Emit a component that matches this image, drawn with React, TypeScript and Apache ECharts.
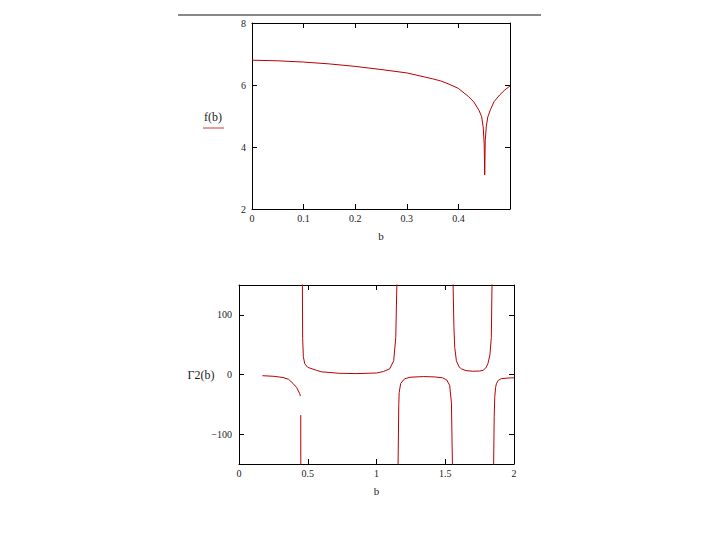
import React, { useEffect, useRef } from "react";
import * as echarts from "echarts";

// f(b) curve, top panel: [b, f(b)]
const fB: [number, number][] = [
  [0, 6.8], [0.05, 6.78], [0.1, 6.74], [0.15, 6.68], [0.2, 6.6], [0.25, 6.5],
  [0.3, 6.39], [0.35, 6.2], [0.366, 6.13], [0.38, 6.04], [0.4, 5.89], [0.42, 5.62],
  [0.43, 5.45], [0.44, 5.18], [0.445, 4.98], [0.448, 4.65], [0.45, 4.1], [0.451, 3.1],
  [0.452, 4.2], [0.454, 4.65], [0.457, 4.97], [0.462, 5.2], [0.469, 5.46],
  [0.48, 5.68], [0.49, 5.84], [0.5, 5.97],
];

// Γ2(b) curve, bottom panel, split into branches between asymptotes
const g2Branch1: [number, number][] = [
  [0.17, -2], [0.25, -3], [0.32, -5], [0.36, -8], [0.393, -15], [0.42, -22], [0.441, -32], [0.447, -36],
];
const g2Branch1b: [number, number][] = [[0.449, -68], [0.451, -400]];
const g2Branch2: [number, number][] = [
  [0.459, 400], [0.461, 150], [0.463, 60], [0.468, 30], [0.478, 18], [0.5, 12], [0.563, 7],
  [0.6, 4.5], [0.73, 2], [0.85, 1.5], [1.0, 2.5], [1.05, 5], [1.096, 9.5], [1.125, 23],
  [1.14, 62], [1.148, 150], [1.15, 400],
];
const g2Branch3: [number, number][] = [
  [1.155, -400], [1.157, -150], [1.162, -50], [1.165, -30], [1.176, -15], [1.205, -7],
  [1.25, -4.5], [1.34, -3.5], [1.42, -4], [1.48, -5.5], [1.51, -9], [1.532, -18],
  [1.545, -48], [1.552, -150], [1.554, -400],
];
const g2Branch4: [number, number][] = [
  [1.555, 400], [1.557, 150], [1.563, 80], [1.569, 45], [1.581, 23], [1.6, 13], [1.617, 9.5],
  [1.65, 6.5], [1.7, 5.5], [1.75, 5.8], [1.775, 7], [1.795, 11], [1.81, 18], [1.825, 33],
  [1.835, 62], [1.84, 150], [1.842, 400],
];
const g2Branch5: [number, number][] = [
  [1.85, -400], [1.852, -150], [1.856, -70], [1.86, -38], [1.866, -22], [1.872, -15.5],
  [1.885, -10], [1.908, -7], [1.95, -6], [2.0, -5.5],
];

const topXTicks = [0, 0.1, 0.2, 0.3, 0.4];
const topYTicks = [2, 4, 6, 8];
const botXTicks = [0, 0.5, 1, 1.5, 2];
const botYTicks = [-100, 0, 100];

const FONT = "Liberation Serif";
const LINE = "#b80000";

export default function App() {
  const ref = useRef<HTMLDivElement>(null);
  useEffect(() => {
    if (!ref.current) return;
    const chart = echarts.init(ref.current, null, { renderer: "svg" });
    const lbl = { fontFamily: FONT, fontSize: 10, color: "#222" };
    const axLine = { show: true, onZero: false, lineStyle: { color: "#000", width: 1 } };
    const tick = (vals: number[]) => ({ show: true, inside: true, length: 5, customValues: vals, lineStyle: { color: "#000" } });
    const fmt = (v: number) => (v < 0 ? "\u2212" + Math.abs(v) : String(v));
    const branch = (d: [number, number][]) => ({
      type: "line", xAxisIndex: 2, yAxisIndex: 2, data: d, showSymbol: false, symbol: "none",
      lineStyle: { color: LINE, width: 1 }, clip: true,
    });
    chart.setOption({
      animation: false,
      backgroundColor: "#fff",
      grid: [
        { left: 252, top: 23, width: 258, height: 186 },
        { left: 239, top: 285, width: 275, height: 179 },
      ],
      xAxis: [
        {
          type: "value", gridIndex: 0, min: 0, max: 0.5, position: "bottom",
          axisLine: axLine, axisTick: tick(topXTicks), splitLine: { show: false },
          axisLabel: { ...lbl, margin: 4, customValues: topXTicks },
          name: "b", nameLocation: "middle", nameGap: 21, nameTextStyle: { ...lbl, fontSize: 11 },
        },
        {
          type: "value", gridIndex: 0, min: 0, max: 0.5, position: "top",
          axisLine: axLine, axisTick: tick(topXTicks), splitLine: { show: false }, axisLabel: { show: false },
        },
        {
          type: "value", gridIndex: 1, min: 0, max: 2, position: "bottom",
          axisLine: axLine, axisTick: tick(botXTicks), splitLine: { show: false },
          axisLabel: { ...lbl, margin: 4, customValues: botXTicks },
          name: "b", nameLocation: "middle", nameGap: 21, nameTextStyle: { ...lbl, fontSize: 11 },
        },
        {
          type: "value", gridIndex: 1, min: 0, max: 2, position: "top",
          axisLine: axLine, axisTick: tick(botXTicks), splitLine: { show: false }, axisLabel: { show: false },
        },
      ],
      yAxis: [
        {
          type: "value", gridIndex: 0, min: 2, max: 8, position: "left",
          axisLine: axLine, axisTick: tick(topYTicks), splitLine: { show: false },
          axisLabel: { ...lbl, margin: 6, customValues: topYTicks },
        },
        {
          type: "value", gridIndex: 0, min: 2, max: 8, position: "right",
          axisLine: axLine, axisTick: tick(topYTicks), splitLine: { show: false }, axisLabel: { show: false },
        },
        {
          type: "value", gridIndex: 1, min: -150, max: 150, position: "left",
          axisLine: axLine, axisTick: tick(botYTicks), splitLine: { show: false },
          axisLabel: { ...lbl, margin: 7, customValues: botYTicks, formatter: fmt },
        },
        {
          type: "value", gridIndex: 1, min: -150, max: 150, position: "right",
          axisLine: axLine, axisTick: tick(botYTicks), splitLine: { show: false }, axisLabel: { show: false },
        },
      ],
      graphic: [
        { type: "line", shape: { x1: 178, y1: 15, x2: 541, y2: 15 }, style: { stroke: "#888", lineWidth: 2 } },
        { type: "text", x: 213, y: 117, style: { text: "f(b)", font: "12px " + FONT, fill: "#222", align: "center", verticalAlign: "middle" } },
        { type: "line", shape: { x1: 203, y1: 128, x2: 224, y2: 128 }, style: { stroke: "#e03030", lineWidth: 1 } },
        { type: "text", x: 201, y: 375, style: { text: "Γ2(b)", font: "12px " + FONT, fill: "#222", align: "center", verticalAlign: "middle" } },
      ],
      series: [
        {
          type: "line", xAxisIndex: 0, yAxisIndex: 0, data: fB, showSymbol: false, symbol: "none",
          lineStyle: { color: LINE, width: 1 },
        },
        branch(g2Branch1),
        branch(g2Branch1b),
        branch(g2Branch2),
        branch(g2Branch3),
        branch(g2Branch4),
        branch(g2Branch5),
      ],
    });
    return () => chart.dispose();
  }, []);
  return (
    <div
      ref={ref}
      style={{ position: "fixed", left: 0, top: 0, width: 720, height: 540, background: "#fff" }}
    />
  );
}
